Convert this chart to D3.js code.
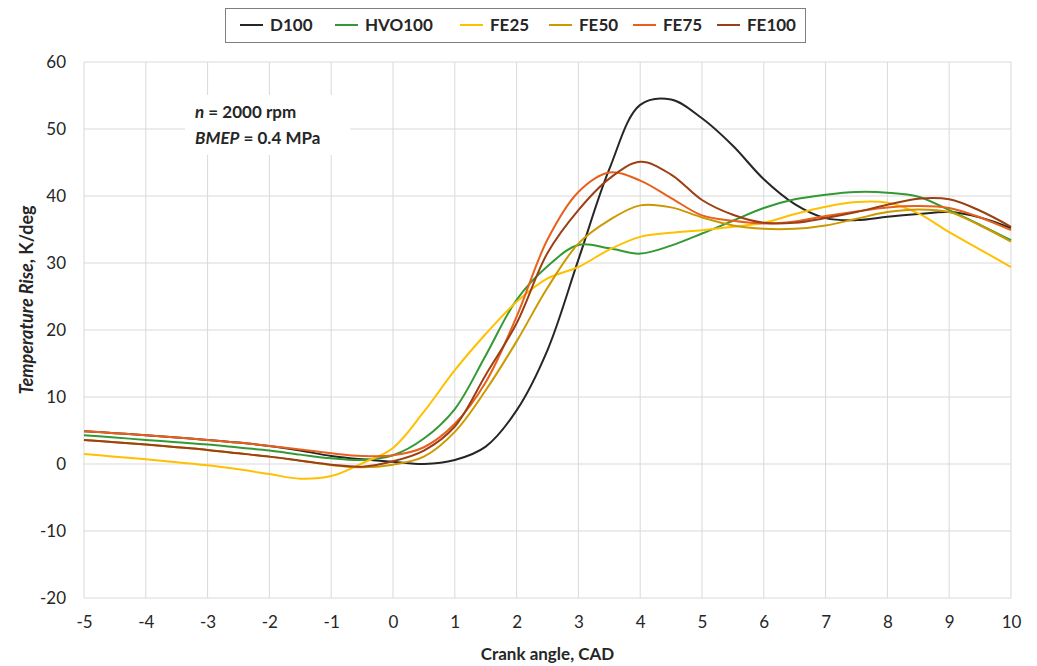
<!DOCTYPE html>
<html lang="en">
<head>
<meta charset="utf-8">
<title>Temperature rise</title>
<script src="https://cdn.jsdelivr.net/npm/d3@7"></script>
<style>
  body { margin: 0; background: #fff; }
  text { font-family: Lato, "Open Sans", sans-serif; fill: #262626; }
  .grid line { stroke: #d9d9d9; stroke-width: 1; }
  .tick text { font-size: 17px; }
  .series { fill: none; stroke-width: 2; }
</style>
</head>
<body>
<script>
// crank angle samples, CAD
const crank = [-5,-4.5,-4,-3.5,-3,-2.5,-2,-1.5,-1,-0.5,0,0.5,1,1.5,2,2.5,3,3.5,4,4.5,5,5.5,6,6.5,7,7.5,8,8.5,9,9.5,10];

// temperature rise, K/deg
const d100   = [4.9,4.6,4.3,3.95,3.6,3.2,2.7,2.0,1.2,0.7,0.35,0.0,0.6,2.6,8.0,17.0,30.5,44.0,53.6,54.4,51.6,47.5,42.5,38.8,36.7,36.4,36.9,37.3,37.6,36.8,35.2];
const hvo100 = [4.3,3.95,3.6,3.25,2.9,2.45,2.0,1.4,0.85,0.6,1.3,3.8,8.2,16.2,24.5,29.5,32.7,32.2,31.4,32.6,34.4,36.3,38.2,39.5,40.2,40.6,40.5,39.9,37.9,35.7,33.4];
const fe25   = [1.5,1.1,0.7,0.25,-0.2,-0.8,-1.5,-2.2,-1.8,0.1,2.4,7.8,14.0,19.4,24.2,27.7,29.4,32.0,33.9,34.5,34.9,35.4,36.0,37.3,38.4,39.1,39.0,37.4,34.6,32.0,29.4];
const fe50   = [3.6,3.25,2.9,2.5,2.1,1.6,1.1,0.5,-0.15,-0.5,-0.1,1.1,4.8,11.0,18.3,26.3,32.9,36.4,38.6,38.3,36.8,35.6,35.1,35.1,35.6,36.6,37.6,38.0,37.6,35.6,33.2];
const fe75   = [4.9,4.6,4.3,3.95,3.6,3.2,2.7,2.15,1.6,1.2,1.3,2.5,6.0,12.2,22.0,33.5,40.6,43.5,42.3,39.7,37.1,36.3,35.9,36.2,37.0,37.7,38.3,38.5,38.2,36.8,34.9];
const fe100  = [3.6,3.25,2.9,2.5,2.1,1.6,1.1,0.5,-0.1,-0.4,0.4,2.0,5.6,13.3,21.0,31.5,37.9,42.6,45.1,43.2,39.4,37.2,36.0,36.0,36.7,37.6,38.7,39.6,39.5,37.8,35.4];

const names  = ["D100","HVO100","FE25","FE50","FE75","FE100"];
const colors = ["#262626","#339933","#FFC000","#CC9900","#E8601C","#9C3F12"];
const values = [d100, hvo100, fe25, fe50, fe75, fe100];

const xTicks = d3.range(-5, 11, 1);
const yTicks = d3.range(-20, 61, 10);

const w = 1037, h = 666;
const mLeft = 84, mRight = 1011, mTop = 62, mBottom = 598;

const svg = d3.select("body").append("svg")
  .attr("width", w).attr("height", h);

const x = d3.scaleLinear().domain([-5, 10]).range([mLeft, mRight]);
const y = d3.scaleLinear().domain([-20, 60]).range([mBottom, mTop]);

// gridlines
svg.append("g").attr("class", "grid")
  .selectAll("line").data(xTicks).join("line")
  .attr("x1", d => x(d)).attr("x2", d => x(d))
  .attr("y1", mTop).attr("y2", mBottom);
svg.append("g").attr("class", "grid")
  .selectAll("line").data(yTicks).join("line")
  .attr("x1", mLeft).attr("x2", mRight)
  .attr("y1", d => y(d)).attr("y2", d => y(d));

// axes (labels only), plain hyphen for negatives like Excel
const fmt = d => String(d);
const xAxis = svg.append("g")
  .attr("transform", `translate(0,${mBottom})`)
  .call(d3.axisBottom(x).tickValues(xTicks).tickSize(0).tickPadding(18).tickFormat(fmt));
xAxis.select(".domain").remove();

const yAxis = svg.append("g")
  .attr("transform", `translate(${mLeft},0)`)
  .call(d3.axisLeft(y).tickValues(yTicks).tickSize(0).tickPadding(18).tickFormat(fmt));
yAxis.select(".domain").remove();
svg.selectAll(".tick text").attr("fill", "#262626");

// series
const line = d3.line()
  .x((d, i) => x(crank[i]))
  .y(d => y(d))
  .curve(d3.curveCatmullRom.alpha(0.5));

svg.append("g").selectAll("path").data(values).join("path")
  .attr("class", "series")
  .attr("stroke", (d, i) => colors[i])
  .attr("d", line);

// annotation box
svg.append("rect")
  .attr("x", 185).attr("y", 95).attr("width", 165).attr("height", 60)
  .attr("fill", "#fff");
const ann = svg.append("g").style("font-size", "17px").style("font-weight", "bold");
const t1 = ann.append("text").attr("x", 195).attr("y", 118);
t1.append("tspan").style("font-style", "italic").text("n");
t1.append("tspan").text(" = 2000 rpm");
const t2 = ann.append("text").attr("x", 195).attr("y", 144);
t2.append("tspan").style("font-style", "italic").text("BMEP");
t2.append("tspan").text(" = 0.4 MPa");

// axis titles
svg.append("text")
  .attr("x", (mLeft + mRight) / 2).attr("y", 660)
  .attr("text-anchor", "middle")
  .style("font-size", "17px").style("font-weight", "bold")
  .text("Crank angle, CAD");

const yt = svg.append("text")
  .attr("transform", "translate(33,300) rotate(-90)")
  .attr("text-anchor", "middle")
  .style("font-size", "18px").style("font-weight", "bold");
yt.append("tspan").style("font-style", "italic").text("Temperature Rise");
yt.append("tspan").text(", K/deg");

// legend
const legend = svg.append("g");
legend.append("rect")
  .attr("x", 225.5).attr("y", 8.5).attr("width", 580).attr("height", 34)
  .attr("fill", "#fff").attr("stroke", "#7f7f7f");
const legX = [240, 335, 460, 549, 633, 717];
const item = legend.selectAll("g.item").data(names).join("g")
  .attr("class", "item")
  .attr("transform", (d, i) => `translate(${legX[i]},25)`);
item.append("line")
  .attr("x1", 0).attr("x2", 23).attr("y1", 0).attr("y2", 0)
  .attr("stroke", (d, i) => colors[i]).attr("stroke-width", 2);
item.append("text")
  .attr("x", 30).attr("y", 6)
  .style("font-size", "17px").style("font-weight", "bold")
  .text(d => d);
</script>
</body>
</html>
